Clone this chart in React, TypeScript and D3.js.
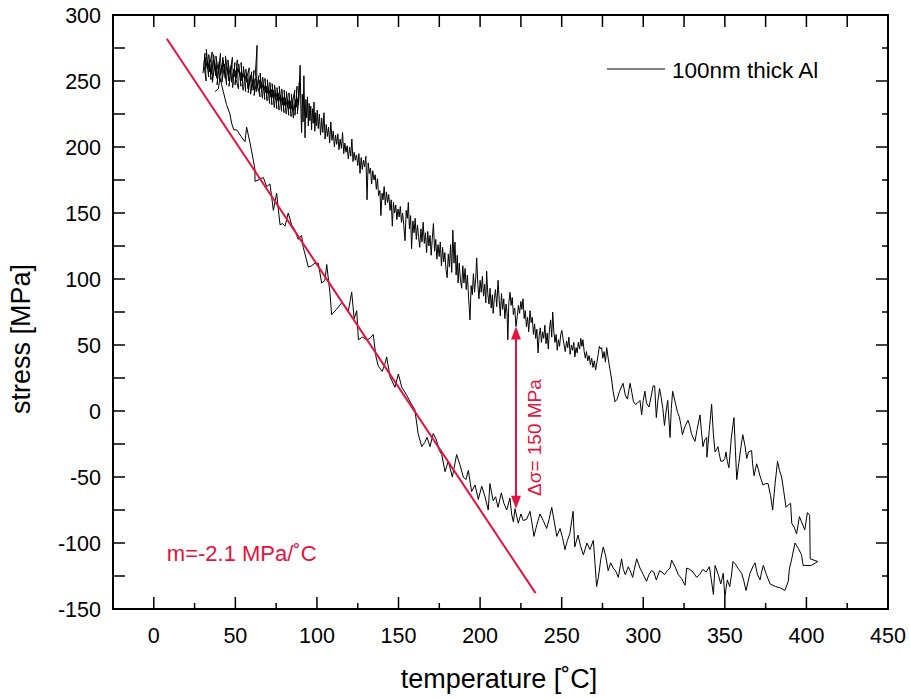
import React from 'react'
import * as d3 from 'd3'

/* svg size matches the reference picture */
const width = 910
const height = 698
const frame = { left: 113, right: 888, top: 15, bottom: 609 }
const red = '#e4123c'
const font = '"Liberation Sans", Arial, sans-serif'

/* axis ticks */
const xMajor = [0, 50, 100, 150, 200, 250, 300, 350, 400, 450]
const xMinor = [-25, 25, 75, 125, 175, 225, 275, 325, 375, 425]
const yMajor = [-150, -100, -50, 0, 50, 100, 150, 200, 250, 300]
const yMinor = [-125, -75, -25, 25, 75, 125, 175, 225, 275]

/* heating branch [temperature, stress] */
const heating: [number, number][] = [
    [30.2, 256], [31.4, 271], [30.8, 262], [32.1, 250], [31.5, 268], [32.9, 259], [32.2, 274], [33.6, 253],
    [33.0, 265], [34.3, 257], [33.7, 270], [35.1, 251], [34.4, 263], [35.8, 272], [35.2, 255], [36.5, 266],
    [35.9, 249], [37.2, 261], [36.6, 270], [38.0, 254], [37.3, 264], [38.7, 252], [38.1, 269], [39.4, 258],
    [38.8, 247], [40.2, 265], [39.5, 256], [40.9, 271], [40.3, 251], [41.6, 262], [41.0, 255], [42.4, 268],
    [41.7, 249], [43.1, 260], [42.5, 266], [43.8, 252], [43.2, 263], [44.6, 247], [43.9, 269], [45.3, 256],
    [44.7, 261], [46.0, 250], [45.4, 266], [46.8, 254], [46.1, 246], [47.5, 262], [46.9, 257], [48.2, 268],
    [47.6, 249], [49.0, 259], [48.3, 245], [49.7, 264], [49.1, 253], [50.4, 258], [49.8, 247], [51.2, 266],
    [50.5, 251], [51.9, 244], [51.3, 260], [52.6, 255], [52.0, 263], [53.4, 246], [52.7, 257], [54.1, 250],
    [53.5, 264], [54.8, 243], [54.2, 256], [55.6, 252], [54.9, 261], [56.3, 242], [55.7, 255], [57.0, 249],
    [56.4, 259], [57.8, 244], [57.1, 253], [58.5, 260], [57.9, 241], [59.2, 254], [58.6, 247], [60.0, 257],
    [59.3, 240], [60.7, 251], [60.1, 245], [61.4, 258], [60.8, 243], [62.2, 252], [61.5, 239], [62.9, 249],
    [62.3, 256], [63.3, 277], [63.0, 242], [64.4, 254], [63.7, 246], [65.1, 238], [64.5, 251], [65.8, 244],
    [65.2, 256], [66.6, 237], [65.9, 249], [67.3, 243], [66.7, 253], [68.0, 236], [67.4, 247], [68.8, 241],
    [68.1, 252], [69.5, 235], [68.9, 246], [70.2, 240], [69.6, 251], [71.0, 233], [70.3, 245], [71.7, 238],
    [71.1, 249], [72.4, 232], [71.8, 244], [73.2, 237], [72.5, 248], [73.9, 230], [73.3, 243], [74.6, 236],
    [74.0, 247], [75.4, 229], [74.7, 242], [76.1, 235], [75.5, 245], [76.8, 228], [76.2, 241], [77.6, 234],
    [76.9, 246], [78.3, 227], [77.7, 239], [79.0, 232], [78.4, 244], [79.8, 226], [79.1, 238], [80.5, 231],
    [79.9, 243], [81.2, 225], [80.6, 237], [82.0, 230], [81.3, 242], [82.7, 224], [82.1, 236], [83.4, 229],
    [82.8, 241], [84.2, 223], [83.5, 235], [84.9, 228], [84.3, 240], [85.6, 222], [85.0, 234], [86.4, 243],
    [85.7, 227], [87.1, 236], [86.5, 224], [87.8, 246], [87.2, 230], [88.6, 238], [88.0, 225], [89.3, 250],
    [88.7, 232], [89.7, 262], [90.2, 226], [90.6, 211], [91.0, 240], [91.5, 219], [92.0, 254], [92.7, 207],
    [93.2, 236], [93.7, 222], [94.2, 238], [94.7, 216], [95.2, 233], [95.7, 220], [96.2, 231], [96.7, 213],
    [97.2, 229], [97.7, 218], [98.2, 234], [98.7, 212], [99.2, 226], [99.7, 216], [100.2, 228], [100.8, 214],
    [101.5, 225], [102.2, 209], [102.9, 222], [103.6, 211], [104.3, 226], [105.0, 206], [105.7, 217], [106.4, 208],
    [107.1, 215], [107.8, 203], [108.5, 219], [109.2, 205], [110.0, 212], [110.7, 200], [111.4, 209], [112.1, 202],
    [112.8, 210], [113.5, 198], [114.2, 206], [115.0, 199], [115.7, 211], [116.4, 195], [117.1, 203], [117.8, 196],
    [118.5, 201], [119.2, 191], [120.0, 200], [120.7, 193], [121.4, 206], [122.1, 189], [122.8, 196], [123.5, 190],
    [124.2, 194], [125.0, 186], [125.7, 195], [126.4, 180], [127.1, 192], [127.8, 183], [128.5, 190], [129.2, 185],
    [130.0, 193], [130.7, 160], [131.4, 188], [132.1, 180], [132.8, 184], [133.5, 172], [134.2, 182], [135.0, 175],
    [135.7, 179], [136.4, 168], [137.1, 176], [137.8, 163], [138.6, 167], [139.2, 148], [139.9, 165], [140.5, 160],
    [141.2, 170], [141.9, 156], [142.6, 166], [143.3, 158], [144.0, 164], [144.8, 152], [145.5, 160], [146.2, 140],
    [146.9, 158], [147.6, 150], [148.3, 156], [149.0, 145], [149.7, 153], [150.4, 147], [151.1, 155], [151.8, 143],
    [152.5, 150], [153.2, 141], [154.0, 129], [154.7, 152], [155.4, 146], [156.0, 158], [156.7, 138], [157.4, 148],
    [158.0, 123], [158.8, 144], [159.5, 135], [160.2, 146], [160.9, 130], [161.6, 141], [162.3, 132], [163.0, 124],
    [163.7, 138], [164.4, 128], [165.1, 143], [165.8, 127], [166.5, 135], [167.2, 120], [167.9, 136], [168.6, 125],
    [169.3, 133], [170.0, 118], [170.7, 131], [171.4, 142], [172.1, 121], [172.8, 130], [173.5, 115], [174.2, 126],
    [174.9, 117], [175.6, 128], [176.3, 110], [177.0, 124], [177.7, 113], [178.4, 120], [179.1, 107], [179.8, 101],
    [180.5, 119], [181.2, 109], [181.9, 126], [182.6, 105], [183.3, 137], [184.0, 112], [184.6, 128], [185.3, 103],
    [186.0, 118], [186.5, 97], [187.2, 112], [187.9, 100], [188.7, 93], [189.4, 110], [190.1, 97], [190.8, 108],
    [191.5, 92], [192.2, 103], [193.0, 85], [193.8, 69], [194.5, 95], [195.2, 88], [195.9, 104], [196.6, 90],
    [197.3, 100], [197.9, 116], [198.6, 96], [199.3, 85], [200.0, 99], [200.7, 90], [201.4, 102], [202.1, 87],
    [202.8, 96], [203.5, 82], [204.0, 106], [204.7, 89], [205.4, 81], [206.1, 93], [206.8, 78], [207.5, 88],
    [208.0, 74], [208.7, 85], [209.4, 92], [210.2, 79], [211.0, 99], [211.7, 84], [212.4, 72], [213.1, 89],
    [213.8, 77], [214.5, 85], [215.2, 70], [215.9, 81], [216.5, 75], [217.0, 54], [217.6, 82], [218.3, 90],
    [219.0, 80], [219.7, 86], [220.4, 73], [221.2, 78], [222.0, 64], [222.8, 72], [223.5, 80], [224.2, 74],
    [225.0, 83], [225.6, 77], [226.3, 85], [227.0, 70], [227.7, 76], [228.4, 64], [229.1, 71], [229.8, 60],
    [230.6, 76], [231.3, 67], [232.0, 71], [232.7, 58], [233.4, 66], [234.1, 55], [234.8, 62], [235.5, 44],
    [236.2, 57], [236.9, 63], [237.6, 52], [238.3, 60], [239.0, 55], [239.7, 65], [240.4, 51], [241.1, 59],
    [241.8, 47], [242.5, 62], [243.2, 69], [243.9, 56], [244.5, 75], [245.2, 60], [245.9, 52], [246.6, 58],
    [247.3, 46], [248.0, 54], [248.7, 49], [249.4, 58], [250.1, 61], [250.8, 55], [251.5, 50], [252.2, 45],
    [253.0, 53], [253.7, 48], [254.4, 56], [255.2, 43], [256.0, 50], [256.7, 46], [257.4, 52], [258.1, 41],
    [258.8, 48], [259.5, 44], [260.2, 52], [261.0, 47], [261.7, 55], [262.4, 49], [263.0, 54], [263.8, 45],
    [264.5, 40], [265.2, 45], [266.0, 38], [266.8, 42], [267.6, 35], [268.4, 40], [269.2, 33], [270.0, 38],
    [270.8, 31], [271.6, 37], [272.4, 43], [273.1, 49], [273.8, 47], [274.5, 48], [275.2, 40], [276.0, 45],
    [276.8, 37], [277.6, 48], [278.5, 40], [279.5, 32], [280.5, 25], [281.5, 15], [282.7, 7], [284.0, 9],
    [285.5, 15], [287.6, 21], [289.0, 12], [290.3, 9], [291.9, 21], [293.0, 14], [294.0, 7], [295.2, 5],
    [296.5, 6], [298.0, 8], [299.0, -3], [300.0, 8], [301.0, 15], [302.0, 6], [303.5, 3], [305.0, 12],
    [306.0, 19], [307.0, 19], [308.0, -5], [309.0, 8], [310.0, 17], [311.0, 10], [312.0, 2], [313.0, -11],
    [314.0, 0], [315.0, 8], [316.4, -20], [317.2, 2], [318.0, 15], [319.5, 7], [321.0, -1], [322.0, -4],
    [323.0, -10], [324.0, -18], [325.5, -12], [327.4, -7], [328.5, -11], [329.5, -17], [330.5, -20], [331.7, -23],
    [333.0, -14], [334.8, -3], [335.6, -15], [336.6, -27], [337.6, -22], [338.9, -20], [339.0, -35], [340.5, -14],
    [341.9, 5], [343.0, -18], [344.0, -31], [345.0, -29], [345.8, -27], [346.5, -32], [347.5, -38], [348.9, -38],
    [350.0, -36], [350.7, -31], [351.5, -38], [352.5, -43], [354.0, -20], [355.6, -5], [356.5, -30], [357.3, -52],
    [358.5, -40], [359.8, -28], [361.0, -18], [362.3, -26], [363.4, -36], [364.5, -31], [366.4, -30], [367.0, -40],
    [367.9, -49], [369.5, -40], [370.5, -44], [371.5, -49], [373.4, -56], [375.0, -55], [376.5, -55], [378.0, -64],
    [379.3, -75], [380.8, -55], [382.3, -38], [383.5, -45], [384.8, -50], [386.0, -60], [387.5, -73], [389.0, -71],
    [390.3, -70], [391.0, -85], [392.5, -88], [394.0, -93], [395.7, -80], [397.0, -84], [399.0, -90], [400.6, -77],
    [402.0, -79], [402.3, -112], [407.0, -114],
]

/* cooling branch [temperature, stress], from 400 degC back to the start */
const cooling: [number, number][] = [
    [407.0, -114], [403.0, -117], [398.0, -117], [397.0, -109], [395.0, -104], [393.0, -100], [391.0, -112], [389.5, -120],
    [388.9, -129], [386.8, -136], [384.0, -134], [381.0, -133], [377.7, -131], [375.5, -124], [373.6, -117], [372.5, -122],
    [371.6, -128], [370.0, -124], [368.5, -115], [367.5, -117], [365.4, -123], [363.0, -136], [361.5, -128], [360.3, -123],
    [358.0, -119], [356.5, -116], [355.0, -114], [354.0, -125], [353.0, -133], [351.5, -128], [350.0, -141], [349.0, -123],
    [347.5, -131], [346.0, -124], [344.0, -117], [343.0, -139], [341.5, -126], [340.5, -118], [338.5, -122], [336.5, -120],
    [334.5, -124], [332.7, -126], [330.5, -122], [328.5, -120], [326.6, -119], [325.6, -132], [323.5, -127], [321.5, -124],
    [319.5, -118], [317.4, -113], [316.4, -119], [314.7, -121], [313.0, -124], [311.5, -122], [310.0, -121], [308.0, -128],
    [306.5, -122], [305.0, -121], [303.5, -124], [302.0, -129], [300.0, -124], [298.0, -119], [296.0, -112], [294.5, -120],
    [293.5, -126], [292.0, -121], [290.8, -118], [289.0, -124], [287.8, -120], [286.7, -112], [284.7, -126], [283.0, -121],
    [281.6, -119], [280.0, -115], [278.5, -121], [277.0, -110], [275.5, -103], [274.0, -112], [272.5, -126], [271.4, -133],
    [270.4, -115], [269.4, -98], [267.3, -105], [265.5, -100], [263.3, -109], [261.5, -102], [260.0, -94], [258.0, -103],
    [257.0, -76], [255.0, -93], [253.5, -98], [252.0, -105], [250.5, -96], [249.0, -89], [247.0, -95], [245.5, -84],
    [243.9, -73], [242.3, -82], [240.8, -89], [238.7, -83], [236.7, -78], [234.8, -86], [233.0, -95], [231.8, -85],
    [230.6, -76], [228.5, -82], [226.5, -83], [225.0, -78], [223.4, -85], [221.4, -74], [220.4, -84], [219.3, -78],
    [218.3, -66], [216.3, -75], [214.6, -70], [213.0, -62], [211.0, -73], [209.5, -65], [208.0, -68], [206.0, -55],
    [205.0, -75], [203.0, -65], [201.0, -57], [198.9, -67], [196.9, -56], [194.8, -61], [192.8, -45], [191.3, -52],
    [189.7, -50], [187.7, -41], [185.6, -33], [183.0, -50], [180.5, -38], [178.5, -46], [176.5, -33], [175.0, -30],
    [173.2, -22], [171.3, -17], [169.3, -27], [167.5, -20], [166.0, -24], [164.2, -27], [162.0, -17], [160.0, 1],
    [157.5, 6], [155.0, 12], [153.5, 15], [152.0, 18], [149.9, 28], [147.8, 18], [146.3, 22], [144.8, 26],
    [142.7, 41], [141.5, 35], [140.0, 30], [137.6, 34], [136.2, 41], [134.5, 58], [132.5, 55], [130.5, 54],
    [128.0, 56], [125.4, 54], [124.4, 76], [122.8, 70], [121.3, 90], [119.3, 76], [117.3, 79], [115.2, 82],
    [112.0, 77], [109.0, 73], [108.0, 89], [106.0, 111], [104.9, 99], [102.9, 97], [100.8, 112], [98.8, 112],
    [96.7, 110], [94.7, 109], [93.3, 116], [91.6, 124], [90.6, 133], [88.5, 130], [86.5, 137], [84.5, 141],
    [82.4, 150], [80.4, 140], [78.9, 142], [77.4, 141], [76.3, 153], [75.3, 165], [73.3, 152], [71.2, 172],
    [69.2, 170], [67.1, 177], [64.0, 175], [62.0, 174], [62.0, 183], [61.0, 190], [59.0, 203], [56.9, 215],
    [55.9, 204], [53.5, 208], [50.8, 213], [49.0, 213], [47.7, 218], [46.7, 225], [44.6, 232], [42.6, 242],
    [40.6, 252], [39.5, 244], [37.5, 242],
]

/* linear fit and the stress gap annotation */
const fitLine: [number, number][] = [[8, 282], [234, -138]]
const gapT = 222
const gapStress = [-74, 64]

const x = d3.scaleLinear().domain([-25, 450]).range([frame.left, frame.right])
const y = d3.scaleLinear().domain([-150, 300]).range([frame.bottom, frame.top])
const line = d3
    .line<[number, number]>()
    .x((d) => x(d[0]))
    .y((d) => y(d[1]))

export default function App() {
    const ax = x(gapT)
    const top = y(gapStress[1])
    const bottom = y(gapStress[0])
    return (
        <svg
            width={width}
            height={height}
            style={{ position: 'absolute', left: 0, top: 0, background: '#fff' }}
            fontFamily={font}
        >
            {/* data */}
            <path d={line(heating) || ''} fill="none" stroke="#000" strokeWidth={1} />
            <path d={line(cooling) || ''} fill="none" stroke="#000" strokeWidth={1} />

            {/* fit line */}
            <path d={line(fitLine) || ''} fill="none" stroke={red} strokeWidth={2} />

            {/* gap arrow */}
            <line x1={ax} x2={ax} y1={top + 10} y2={bottom - 10} stroke={red} strokeWidth={2} />
            <path d={`M${ax},${top} L${ax - 5},${top + 13} L${ax + 5},${top + 13} Z`} fill={red} />
            <path d={`M${ax},${bottom} L${ax - 5},${bottom - 13} L${ax + 5},${bottom - 13} Z`} fill={red} />
            <text
                transform={`translate(${ax + 25},${(top + bottom) / 2 + 20}) rotate(-90)`}
                textAnchor="middle"
                fontSize={19}
                fill={red}
            >
                Δσ= 150 MPa
            </text>
            <text x={x(8)} y={y(-114)} fontSize={22} fill={red}>
                m=-2.1 MPa/˚C
            </text>

            {/* legend */}
            <line x1={607} x2={665} y1={69} y2={69} stroke="#000" strokeWidth={1} />
            <text x={672} y={78} fontSize={22.5} fill="#000">
                100nm thick Al
            </text>

            {/* frame */}
            <rect
                x={frame.left}
                y={frame.top}
                width={frame.right - frame.left}
                height={frame.bottom - frame.top}
                fill="none"
                stroke="#000"
                strokeWidth={2}
            />

            {/* ticks: bottom & right alternate major/minor, top & left all long */}
            {xMajor.concat(xMinor).map((v) => {
                const len = xMajor.includes(v) ? 12 : 6
                return (
                    <g key={`xt${v}`}>
                        <line x1={x(v)} x2={x(v)} y1={frame.bottom} y2={frame.bottom - len} stroke="#000" strokeWidth={1.5} />
                        <line x1={x(v)} x2={x(v)} y1={frame.top} y2={frame.top + 12} stroke="#000" strokeWidth={1.5} />
                    </g>
                )
            })}
            {yMajor.concat(yMinor).map((v) => {
                const len = yMajor.includes(v) ? 12 : 6
                return (
                    <g key={`yt${v}`}>
                        <line x1={frame.left} x2={frame.left + 12} y1={y(v)} y2={y(v)} stroke="#000" strokeWidth={1.5} />
                        <line x1={frame.right} x2={frame.right - len} y1={y(v)} y2={y(v)} stroke="#000" strokeWidth={1.5} />
                    </g>
                )
            })}

            {/* tick labels */}
            {xMajor.map((v) => (
                <text key={`xl${v}`} x={x(v)} y={643} textAnchor="middle" fontSize={21.5}>
                    {v}
                </text>
            ))}
            {yMajor.map((v) => (
                <text key={`yl${v}`} x={101} y={y(v) + 7.5} textAnchor="end" fontSize={21.5}>
                    {v}
                </text>
            ))}

            {/* axis titles */}
            <text x={499} y={688} textAnchor="middle" fontSize={27}>
                temperature [˚C]
            </text>
            <text transform="translate(30,339) rotate(-90)" textAnchor="middle" fontSize={27}>
                stress [MPa]
            </text>
        </svg>
    )
}
